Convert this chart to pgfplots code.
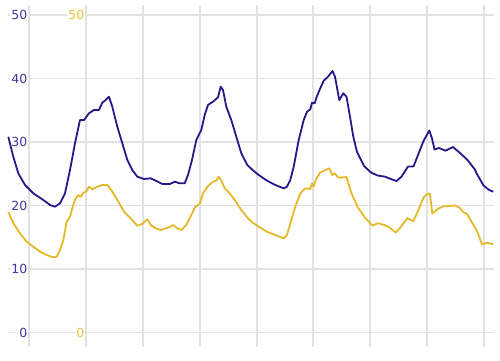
\documentclass[border=0pt]{standalone}
\usepackage{pgfplots}
\pgfplotsset{compat=1.18}
\usepackage{pgfplotstable}
\usepackage{fontspec}
\setmainfont{DejaVu Sans}
\definecolor{blueline}{RGB}{42,22,138}
\definecolor{goldline}{RGB}{228,184,40}
\definecolor{bluetext}{RGB}{72,52,158}
\definecolor{goldtext}{RGB}{238,194,60}
\definecolor{gridc}{RGB}{226,226,226}
\pgfplotstableread{
x v
8.3 30.83
13.3 27.69
18.3 25.07
25 23.23
33.3 21.92
43.3 20.87
50 20.08
55 19.81
60 20.35
65 21.92
70 25.59
75 29.80
80 33.46
84 33.46
89 34.52
94 35.04
99 35.04
102.3 36.19
105.7 36.61
109 37.13
112.3 35.56
117.3 32.41
122.3 29.80
127.3 27.17
132.3 25.59
137.3 24.54
144 24.17
150.7 24.28
155.7 23.91
162.3 23.39
170 23.39
174.7 23.75
179.7 23.50
184.7 23.50
188 24.80
192 27.17
196.3 30.31
201.3 31.89
204.7 34.25
208 35.83
213 36.35
218 37.04
220.7 38.71
223 38.19
226.3 35.56
231.3 33.46
236.3 30.83
241.3 28.22
247.3 26.38
252.5 25.60
258.7 24.80
267 23.91
275.3 23.23
283.7 22.71
287 22.96
290.3 24.02
293.7 26.11
298.7 30.31
303.7 33.46
307 34.77
310.3 35.15
312 36.19
314.7 36.09
317 37.24
320.3 38.46
323.7 39.65
328 40.28
332.5 41.18
335 40.28
339.3 36.61
343.3 37.67
346.5 37.13
350 33.98
353.3 30.83
357 28.43
364 26.22
371 25.20
377.5 24.72
385 24.54
391.5 24.13
396.5 23.86
401.5 24.54
408 26.14
413.5 26.14
418 27.95
423.5 30.16
429.3 31.81
432 30.55
434.5 28.82
439 29.06
445.3 28.63
453 29.21
460.3 28.22
467.5 27.17
474.5 25.75
477 24.95
483.5 23.15
489 22.45
493.3 22.17
}\bluedata
\pgfplotstableread{
x v
8.3 19.02
13.3 17.20
20 15.62
26.7 14.30
33.3 13.51
40 12.72
46.7 12.20
53.3 11.84
56.7 11.94
60 12.99
63.3 14.57
66.7 17.45
70 18.24
72.7 19.81
75 20.87
78.3 21.65
81 21.39
83.3 22.02
86 22.17
89 22.96
92.3 22.55
97.3 22.96
102.3 23.23
107.3 23.23
112.3 22.17
117.3 20.87
124 19.02
130.7 17.98
137.3 16.82
142.3 17.09
147.3 17.83
150.7 16.93
155.7 16.41
160.7 16.14
165.7 16.41
170 16.66
173 16.93
177.3 16.41
181.3 16.14
186.3 16.93
191.3 18.50
195.3 19.81
199.7 20.24
203 21.92
208 23.07
213 23.75
216.3 23.91
218.7 24.54
221.3 23.91
224.7 22.71
229.7 21.92
234.7 20.87
241.3 19.29
248 17.98
252.5 17.32
258.7 16.66
267 15.87
275.3 15.35
283.7 14.83
287 15.35
290.3 17.20
295.3 19.81
300.3 21.92
305.3 22.71
310.3 22.60
312 23.50
313.7 22.96
316 24.13
320.3 25.20
325.3 25.59
329.3 25.86
332.3 24.80
334.7 25.07
338.3 24.41
345 24.44
346.5 24.49
351.3 21.97
357.7 19.76
364 18.27
372.3 16.85
378 17.20
384.3 16.93
389.6 16.54
395.6 15.72
401 16.66
407.3 18.03
413.3 17.51
417.7 19.02
422 20.71
424 21.34
428.2 21.89
430 21.81
432.3 18.71
437.8 19.48
443.5 19.87
454.5 20.00
459 19.72
464 18.87
467 18.66
474.5 16.69
478 15.62
482 13.86
487 14.14
493.3 13.91
}\golddata
\begin{document}
\begin{tikzpicture}[x=1pt,y=1pt]
\useasboundingbox (0,0) rectangle (500,360);
\begin{axis}[
  at={(8pt,13pt)}, anchor=south west,
  scale only axis, width=486pt, height=342pt,
  xmin=8, xmax=494, ymin=-2.28, ymax=51.57,
  axis line style={draw=none},
  xtick={29,86,143,200,257,313,370,427,484},
  xticklabels={},
  ytick={0,10,20,30,40,50},
  major tick length=0pt,
  grid=major,
  major grid style={gridc, line width=1.1pt},
  yticklabel style={anchor=east, xshift=20.5pt, text=bluetext, fill=white, inner sep=1pt,
     font=\fontsize{12.5}{14}\selectfont},
  /pgf/number format/assume math mode=true,
  clip=false,
]
\addplot[blueline, line width=1.8pt, line join=round] table[x=x,y=v] {\bluedata};
\addplot[goldline, line width=1.8pt, line join=round] table[x=x,y=v] {\golddata};
\end{axis}
\begin{axis}[
  at={(8pt,13pt)}, anchor=south west,
  scale only axis, width=486pt, height=342pt,
  xmin=8, xmax=494, ymin=-2.28, ymax=51.57,
  axis line style={draw=none},
  xtick=\empty,
  ytick={0,50},
  major tick length=0pt,
  yticklabel style={anchor=east, xshift=77.5pt, text=goldtext, fill=white, inner sep=1pt,
     font=\fontsize{12.5}{14}\selectfont},
  /pgf/number format/assume math mode=true,
]
\end{axis}
\end{tikzpicture}
\end{document}
